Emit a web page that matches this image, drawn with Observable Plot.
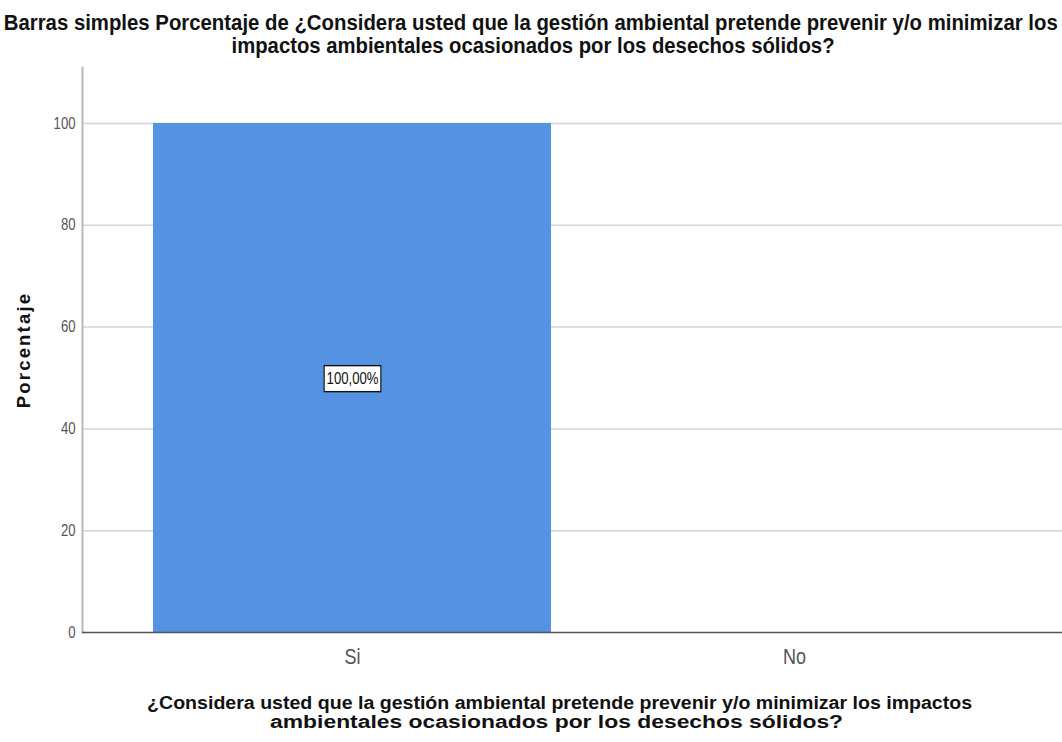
<!DOCTYPE html>
<html>
<head>
<meta charset="utf-8">
<script src="https://cdn.jsdelivr.net/npm/d3@7"></script>
<script src="https://cdn.jsdelivr.net/npm/@observablehq/plot@0.6"></script>
<style>
  body { margin: 0; background: #fff; }
  #wrap { position: relative; width: 1062px; height: 742px; overflow: hidden; background: #fff; }
  .line { position: absolute; white-space: nowrap; font-family: "Liberation Sans", Arial, sans-serif;
    font-weight: bold; color: #111; }
  .line span { position: absolute; left: 0; top: 0; white-space: nowrap; }
  .t { font-size: 22px; line-height: 23px; height: 23px; }
  .c { font-size: 18px; line-height: 18px; height: 18px; }
  #chart { position: absolute; left: 0; top: 48px; }
</style>
</head>
<body>
<div id="wrap">
  <div id="chart"></div>
  <div class="line t" style="top:11px" data-cx="531" data-w="1054"><span>Barras simples Porcentaje de ¿Considera usted que la gestión ambiental pretende prevenir y/o minimizar los</span></div>
  <div class="line t" style="top:34px" data-cx="533" data-w="603"><span>impactos ambientales ocasionados por los desechos sólidos?</span></div>
  <div class="line c" style="top:694px" data-cx="560" data-w="825"><span>¿Considera usted que la gestión ambiental pretende prevenir y/o minimizar los impactos</span></div>
  <div class="line c" style="top:713px" data-cx="557" data-w="573"><span>ambientales ocasionados por los desechos sólidos?</span></div>
</div>
<script>
const categories = ["Si", "No"];
const percentages = [100, 0];
const valueLabels = ["100,00%", ""];
const yTicks = [0, 20, 40, 60, 80, 100];
const gridTicks = [20, 40, 60, 80, 100];

const data = categories.map((c, i) => ({cat: c, pct: percentages[i], label: valueLabels[i]}));
const labelled = data.filter(d => d.label !== "");
const sans = "Liberation Sans, Arial, sans-serif";

const chart = Plot.plot({
  width: 1062,
  height: 650,
  marginLeft: 82,
  marginRight: 0,
  marginTop: 19,
  marginBottom: 66,
  style: {background: "transparent", overflow: "visible"},
  x: {domain: categories, range: [108, 1038], padding: 0.0996, label: null},
  y: {domain: [0, 111], label: null},
  marks: [
    Plot.ruleY(gridTicks, {stroke: "#d4d4d4", strokeWidth: 1.5}),
    Plot.barY(data, {x: "cat", y: "pct", fill: "#5593E2"}),
    Plot.frame({anchor: "left", stroke: "#b8b8b8", strokeWidth: 2}),
    Plot.ruleY([0], {stroke: "#555", strokeWidth: 1.5}),
    Plot.axisY({ticks: yTicks, tickSize: 0, tickPadding: 7, fontSize: 16, fill: "#555",
      fontFamily: sans, label: null, className: "narrowtxt"}),
    Plot.axisX({tickSize: 0, tickPadding: 16, fontSize: 22, fill: "#555",
      fontFamily: sans, label: null, className: "narrowtxt"}),
    Plot.text(["Porcentaje"], {frameAnchor: "left", dx: -58, rotate: -90, fontSize: 18.5,
      textAnchor: "middle", fontWeight: "bold", fill: "#111",
      fontFamily: sans, text: d => d, className: "ylab"}),
    Plot.text(labelled, {x: "cat", y: d => d.pct / 2, dy: 1, text: "label", fontSize: 16, fill: "#111",
      fontFamily: sans, className: "vallabel"})
  ]
});
document.getElementById("chart").appendChild(chart);

// narrow (Arial Narrow-like) rendering for tick labels and the value label
chart.querySelectorAll(".narrowtxt text, .vallabel text").forEach(t => {
  const tr = t.getAttribute("transform") || "";
  t.setAttribute("transform", tr + " scale(0.82,1)");
});

// white box with black border behind each value label
chart.querySelectorAll(".vallabel text").forEach(t => {
  const b = t.getBBox();
  const r = document.createElementNS("http://www.w3.org/2000/svg", "rect");
  const tr = t.getAttribute("transform");
  if (tr) r.setAttribute("transform", tr);
  const cy = b.y + b.height / 2;
  r.setAttribute("x", b.x - 3);
  r.setAttribute("y", cy - 13);
  r.setAttribute("width", b.width + 6);
  r.setAttribute("height", 26);
  r.setAttribute("fill", "white");
  r.setAttribute("stroke", "#111");
  r.setAttribute("stroke-width", "1.4");
  t.parentNode.insertBefore(r, t);
});
chart.querySelectorAll(".ylab text").forEach(t => t.setAttribute("letter-spacing", "2.2"));

// fit title / caption lines to the reference widths, centred on the reference centres
document.querySelectorAll(".line").forEach(div => {
  const s = div.querySelector("span");
  const w = s.getBoundingClientRect().width;
  const target = +div.dataset.w;
  const cx = +div.dataset.cx;
  const k = w > 0 ? target / w : 1;
  div.style.left = (cx - w / 2) + "px";
  div.style.width = w + "px";
  s.style.transformOrigin = "50% 50%";
  s.style.transform = `scaleX(${k})`;
});
</script>
</body>
</html>
